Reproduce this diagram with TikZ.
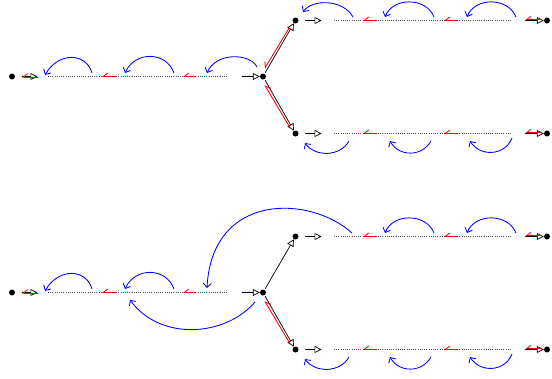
\documentclass[tikz,border=0pt]{standalone}
\usetikzlibrary{arrows.meta}
\tikzset{
  dot/.style={circle,fill=black,inner sep=0pt,minimum size=6pt},
  flow/.style={draw=black,line width=0.7pt,-{Triangle[open,length=7pt,width=7pt]}},
  back/.style={draw=red,line width=0.85pt,-{Straight Barb[right,length=4.5pt,width=7pt]}},
  chainline/.style={draw=black!70,line width=0.7pt,dash pattern=on 0.7pt off 1.5pt},
  jump/.style={draw=blue,line width=0.85pt,-{Straight Barb[length=4pt,width=8pt]}},
}
\begin{document}
\begin{tikzpicture}[x=1pt,y=-1pt]
\useasboundingbox (0,0) rectangle (552,378);
\foreach \p/\o in {A/0,B/216}{
  % dots
  \node[dot] (\p-L) at (12,76.5+\o) {};
  \node[dot] (\p-C) at (263,76.5+\o) {};
  \node[dot] (\p-U) at (295.5,20.5+\o) {};
  \node[dot] (\p-D) at (295.5,133.5+\o) {};
  \node[dot] (\p-UR) at (547,20.5+\o) {};
  \node[dot] (\p-DR) at (547,133.5+\o) {};
  % left chain
  \coordinate (\p-l1) at (22,76.5+\o);
  \coordinate (\p-l2) at (37.5,76.5+\o);
  \coordinate (\p-l3) at (48,76.5+\o);
  \coordinate (\p-l4) at (227,76.5+\o);
  \coordinate (\p-l5) at (242,76.5+\o);
  \draw[flow] (\p-l1) -- (\p-l2);
  \draw[back] ([yshift=-0.6pt]\p-l2) -- ([yshift=-0.6pt]\p-l1);
  \draw[chainline] (\p-l3) -- (\p-l4);
  \draw[flow] (\p-l5) -- (\p-C);
  \coordinate (\p-r1a) at (116,76.5+\o); \coordinate (\p-r1b) at (102,76.5+\o);
  \coordinate (\p-r2a) at (196,76.5+\o); \coordinate (\p-r2b) at (183,76.5+\o);
  \draw[back] (\p-r1a) -- (\p-r1b);
  \draw[back] (\p-r2a) -- (\p-r2b);
  % upper and lower branch chains
  \foreach \q/\y in {U/20.5,D/133.5}{
    \coordinate (\p\q-c1) at (305,\y+\o);
    \coordinate (\p\q-c2) at (321.5,\y+\o);
    \coordinate (\p\q-c3) at (334,\y+\o);
    \coordinate (\p\q-c4) at (511,\y+\o);
    \coordinate (\p\q-c5) at (525,\y+\o);
    \coordinate (\p\q-c6) at (540,\y+\o);
    \draw[flow] (\p\q-c1) -- (\p\q-c2);
    \draw[chainline] (\p\q-c3) -- (\p\q-c4);
    \draw[flow] (\p\q-c5) -- (\p-\q R);
    \draw[back] ([yshift=0.6pt]\p\q-c6) -- ([yshift=0.6pt]\p\q-c5);
    \coordinate (\p\q-r1a) at (377,\y+\o); \coordinate (\p\q-r1b) at (363,\y+\o);
    \coordinate (\p\q-r2a) at (458,\y+\o); \coordinate (\p\q-r2b) at (444,\y+\o);
    \draw[back] (\p\q-r1a) -- (\p\q-r1b);
    \draw[back] (\p\q-r2a) -- (\p\q-r2b);
  }
  % diagonals
  \draw[flow,shorten <=1pt] (\p-C) -- (\p-U);
  \draw[flow,shorten <=1pt] (\p-C) -- (\p-D);
  % left chain jumps
  \coordinate (\p-j1s) at (92,73+\o); \coordinate (\p-j1e) at (45,75+\o);
  \coordinate (\p-j2s) at (174,73+\o); \coordinate (\p-j2e) at (125,73+\o);
  \draw[jump] (\p-j1s) .. controls (86,52+\o) and (58,52+\o) .. (\p-j1e);
  \draw[jump] (\p-j2s) .. controls (166,51+\o) and (135,51+\o) .. (\p-j2e);
  % upper branch jumps
  \coordinate (\p-u2s) at (434,17+\o); \coordinate (\p-u2e) at (385,17+\o);
  \coordinate (\p-u3s) at (516,17+\o); \coordinate (\p-u3e) at (467,17+\o);
  \draw[jump] (\p-u2s) .. controls (426,-3+\o) and (393,-3+\o) .. (\p-u2e);
  \draw[jump] (\p-u3s) .. controls (508,-3+\o) and (475,-3+\o) .. (\p-u3e);
  % lower branch jumps
  \coordinate (\p-d1s) at (349,141+\o); \coordinate (\p-d1e) at (305,143+\o);
  \coordinate (\p-d2s) at (431,141+\o); \coordinate (\p-d2e) at (390,141+\o);
  \coordinate (\p-d3s) at (512,138+\o); \coordinate (\p-d3e) at (470,141+\o);
  \draw[jump] (\p-d1s) .. controls (340,157+\o) and (315,157+\o) .. (\p-d1e);
  \draw[jump] (\p-d2s) .. controls (422,157+\o) and (399,157+\o) .. (\p-d2e);
  \draw[jump] (\p-d3s) .. controls (505,156+\o) and (480,157+\o) .. (\p-d3e);
}
% diagram A specifics
\coordinate (A-ua) at (289.3,27.6); \coordinate (A-ub) at (264.8,68.3);
\draw[back] (A-ua) -- (A-ub);
\coordinate (A-da) at (289.3,126.6); \coordinate (A-db) at (264.8,85.2);
\draw[back] (A-da) -- (A-db);
\coordinate (A-j3s) at (257,67); \coordinate (A-j3e) at (207,73);
\draw[jump] (A-j3s) .. controls (250,53) and (216,52) .. (A-j3e);
\coordinate (A-u1s) at (353,17); \coordinate (A-u1e) at (303,12);
\draw[jump] (A-u1s) .. controls (343,-1) and (312,-1) .. (A-u1e);
% diagram B specifics
\coordinate (B-da) at (289.3,342.6); \coordinate (B-db) at (264.8,301.2);
\draw[back] (B-da) -- (B-db);
\coordinate (B-bs) at (352,233); \coordinate (B-be) at (207,288);
\draw[jump] (B-bs) .. controls (310,195) and (212,192) .. (B-be);
\coordinate (B-cs) at (255,302); \coordinate (B-ce) at (130,300);
\draw[jump] (B-cs) .. controls (225,337) and (160,341) .. (B-ce);
\end{tikzpicture}
\end{document}
